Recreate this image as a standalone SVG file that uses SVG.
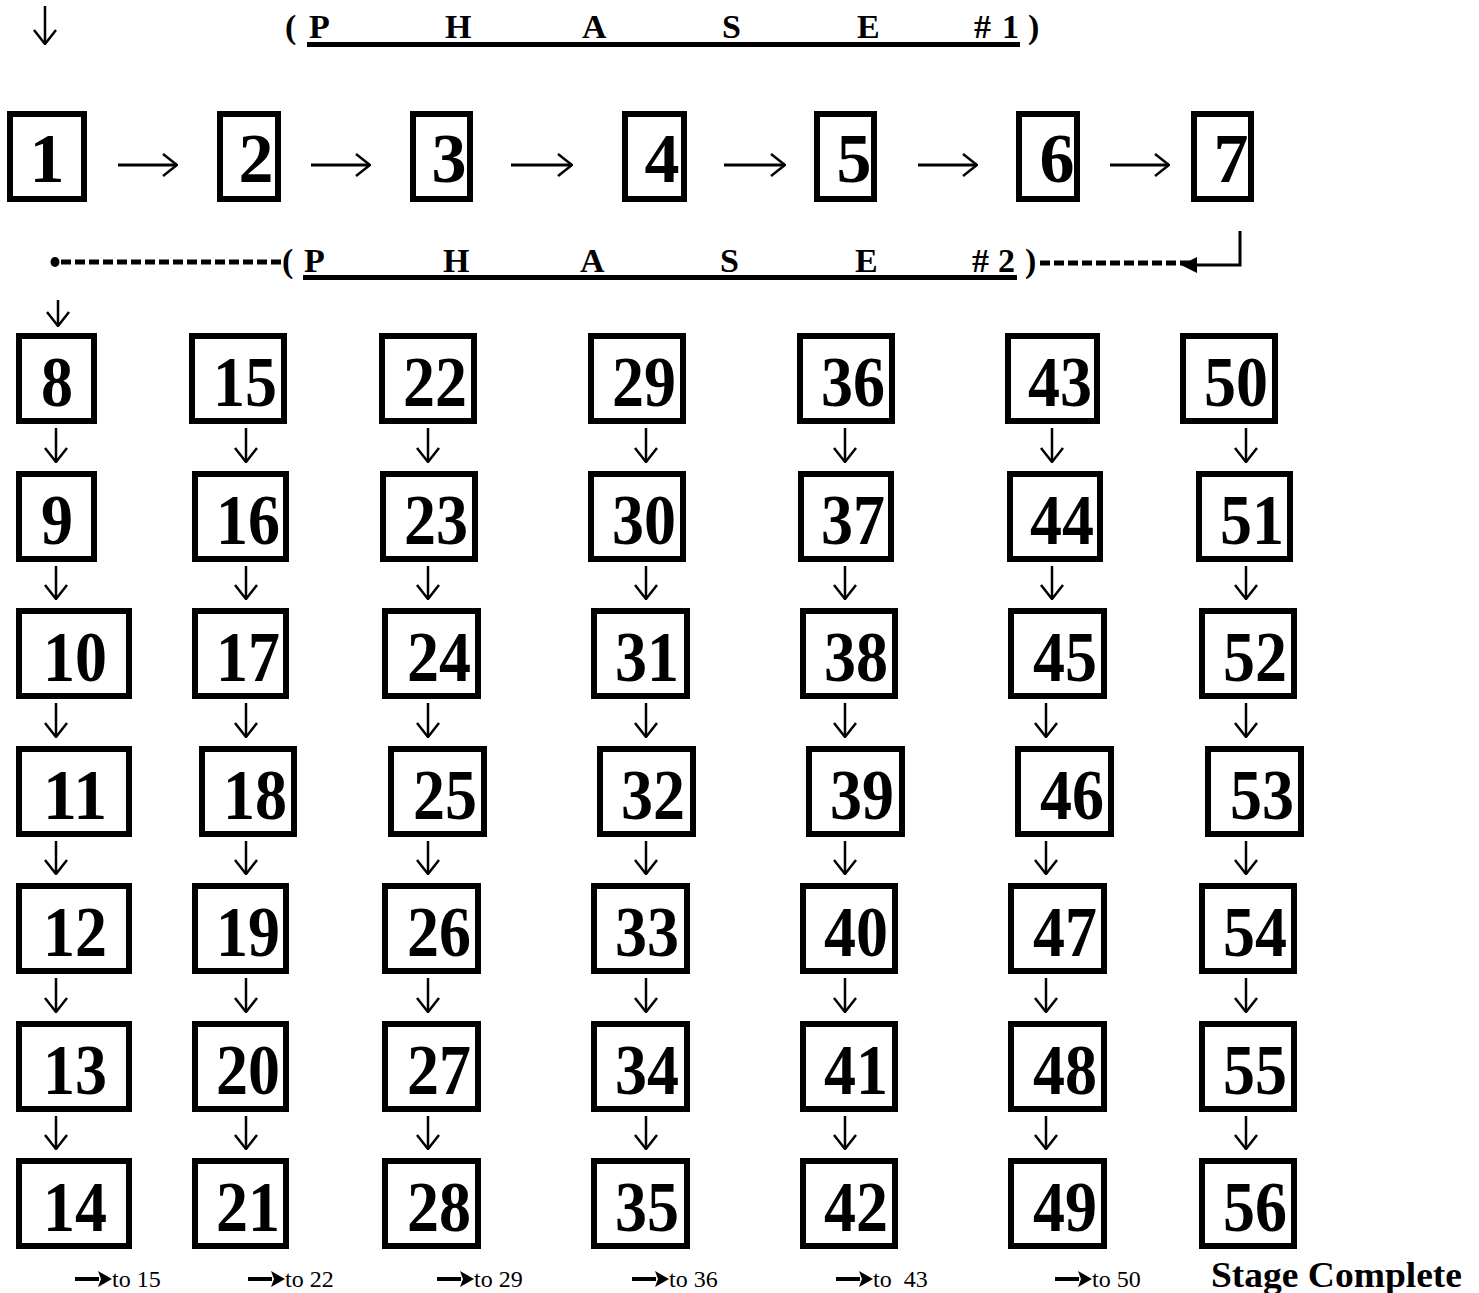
<svg xmlns="http://www.w3.org/2000/svg" width="1479" height="1293" viewBox="0 0 1479 1293">
<style>
.box{fill:#fff;stroke:#000;stroke-width:6}
.num{font-family:"Liberation Serif","Times New Roman",serif;font-weight:bold;font-size:72px;text-anchor:middle;fill:#000}
.num1{font-family:"Liberation Serif","Times New Roman",serif;font-weight:bold;font-size:70px;text-anchor:middle;fill:#000}
.hdr{font-family:"Liberation Serif","Times New Roman",serif;font-weight:bold;font-size:34px;fill:#000}
.lbl{font-family:"Liberation Serif","Times New Roman",serif;font-size:24px;fill:#000}
.conn{stroke:#000;stroke-width:2.5;fill:none}
.hconn{stroke:#000;stroke-width:3;fill:none}
.fconn{stroke:#000;stroke-width:4;fill:none}
.dash{stroke:#000;stroke-width:5;stroke-dasharray:10 4;fill:none}
</style>
<defs>
<marker id="ah" viewBox="0 0 16 24" refX="15" refY="12" markerWidth="16" markerHeight="24" markerUnits="userSpaceOnUse" orient="auto">
<path d="M1,1 L15,12 L1,23" stroke="#000" stroke-width="2.5" fill="none"/>
</marker>
<marker id="ahf" viewBox="0 0 16 16" refX="1" refY="8" markerWidth="16" markerHeight="16" markerUnits="userSpaceOnUse" orient="auto">
<path d="M0,0 L16,8 L0,16 Z" fill="#000"/>
</marker>
<marker id="ahs" viewBox="0 0 14 16" refX="1" refY="8" markerWidth="14" markerHeight="16" markerUnits="userSpaceOnUse" orient="auto">
<path d="M0,0 L14,8 L0,16 L3,8 Z" fill="#000"/>
</marker>
</defs>

<g id="phase1-header">
<text class="hdr" y="38"><tspan x="285">(</tspan><tspan x="309">P</tspan><tspan x="445">H</tspan><tspan x="582">A</tspan><tspan x="722">S</tspan><tspan x="857">E</tspan><tspan x="974">#</tspan><tspan x="1002">1</tspan><tspan x="1028">)</tspan></text>
<rect x="307" y="42" width="713" height="5" fill="#000"/>
</g>

<g id="phase2-header">
<text class="hdr" y="272"><tspan x="282">(</tspan><tspan x="304">P</tspan><tspan x="443">H</tspan><tspan x="580">A</tspan><tspan x="720">S</tspan><tspan x="855">E</tspan><tspan x="972">#</tspan><tspan x="998">2</tspan><tspan x="1025">)</tspan></text>
<rect x="303" y="275" width="714" height="5" fill="#000"/>
</g>

<g id="nodes">
<g id="n1"><rect class="box" x="10" y="114" width="74" height="85"/><text class="num1" x="47" y="182">1</text></g>
<g id="n2"><rect class="box" x="220" y="114" width="58" height="85"/><text class="num1" x="256" y="182">2</text></g>
<g id="n3"><rect class="box" x="413" y="114" width="57" height="85"/><text class="num1" x="449" y="182">3</text></g>
<g id="n4"><rect class="box" x="625" y="114" width="59" height="85"/><text class="num1" x="662" y="182">4</text></g>
<g id="n5"><rect class="box" x="817" y="114" width="57" height="85"/><text class="num1" x="854" y="182">5</text></g>
<g id="n6"><rect class="box" x="1019" y="114" width="58" height="85"/><text class="num1" x="1057" y="182">6</text></g>
<g id="n7"><rect class="box" x="1194" y="114" width="57" height="85"/><text class="num1" x="1231" y="182">7</text></g>

<g id="n8"><rect class="box" x="19" y="336" width="75" height="85"/><text class="num" x="57" y="406" textLength="32" lengthAdjust="spacingAndGlyphs">8</text></g>
<g id="n9"><rect class="box" x="19" y="474" width="75" height="85"/><text class="num" x="57" y="544" textLength="32" lengthAdjust="spacingAndGlyphs">9</text></g>
<g id="n10"><rect class="box" x="19" y="611" width="110" height="85"/><text class="num" x="75" y="681" textLength="64" lengthAdjust="spacingAndGlyphs">10</text></g>
<g id="n11"><rect class="box" x="19" y="749" width="110" height="85"/><text class="num" x="75" y="819" textLength="64" lengthAdjust="spacingAndGlyphs">11</text></g>
<g id="n12"><rect class="box" x="19" y="886" width="110" height="85"/><text class="num" x="75" y="956" textLength="64" lengthAdjust="spacingAndGlyphs">12</text></g>
<g id="n13"><rect class="box" x="19" y="1024" width="110" height="85"/><text class="num" x="75" y="1094" textLength="64" lengthAdjust="spacingAndGlyphs">13</text></g>
<g id="n14"><rect class="box" x="19" y="1161" width="110" height="85"/><text class="num" x="75" y="1231" textLength="64" lengthAdjust="spacingAndGlyphs">14</text></g>

<g id="n15"><rect class="box" x="192" y="336" width="92" height="85"/><text class="num" x="245" y="406" textLength="64" lengthAdjust="spacingAndGlyphs">15</text></g>
<g id="n16"><rect class="box" x="195" y="474" width="91" height="85"/><text class="num" x="248" y="544" textLength="64" lengthAdjust="spacingAndGlyphs">16</text></g>
<g id="n17"><rect class="box" x="195" y="611" width="91" height="85"/><text class="num" x="248" y="681" textLength="64" lengthAdjust="spacingAndGlyphs">17</text></g>
<g id="n18"><rect class="box" x="202" y="749" width="92" height="85"/><text class="num" x="255" y="819" textLength="64" lengthAdjust="spacingAndGlyphs">18</text></g>
<g id="n19"><rect class="box" x="195" y="886" width="91" height="85"/><text class="num" x="248" y="956" textLength="64" lengthAdjust="spacingAndGlyphs">19</text></g>
<g id="n20"><rect class="box" x="195" y="1024" width="91" height="85"/><text class="num" x="248" y="1094" textLength="64" lengthAdjust="spacingAndGlyphs">20</text></g>
<g id="n21"><rect class="box" x="195" y="1161" width="91" height="85"/><text class="num" x="248" y="1231" textLength="64" lengthAdjust="spacingAndGlyphs">21</text></g>

<g id="n22"><rect class="box" x="382" y="336" width="92" height="85"/><text class="num" x="435" y="406" textLength="64" lengthAdjust="spacingAndGlyphs">22</text></g>
<g id="n23"><rect class="box" x="383" y="474" width="92" height="85"/><text class="num" x="436" y="544" textLength="64" lengthAdjust="spacingAndGlyphs">23</text></g>
<g id="n24"><rect class="box" x="385" y="611" width="93" height="85"/><text class="num" x="439" y="681" textLength="64" lengthAdjust="spacingAndGlyphs">24</text></g>
<g id="n25"><rect class="box" x="391" y="749" width="93" height="85"/><text class="num" x="445" y="819" textLength="64" lengthAdjust="spacingAndGlyphs">25</text></g>
<g id="n26"><rect class="box" x="385" y="886" width="93" height="85"/><text class="num" x="439" y="956" textLength="64" lengthAdjust="spacingAndGlyphs">26</text></g>
<g id="n27"><rect class="box" x="385" y="1024" width="93" height="85"/><text class="num" x="439" y="1094" textLength="64" lengthAdjust="spacingAndGlyphs">27</text></g>
<g id="n28"><rect class="box" x="385" y="1161" width="93" height="85"/><text class="num" x="439" y="1231" textLength="64" lengthAdjust="spacingAndGlyphs">28</text></g>

<g id="n29"><rect class="box" x="591" y="336" width="92" height="85"/><text class="num" x="644" y="406" textLength="64" lengthAdjust="spacingAndGlyphs">29</text></g>
<g id="n30"><rect class="box" x="591" y="474" width="92" height="85"/><text class="num" x="644" y="544" textLength="64" lengthAdjust="spacingAndGlyphs">30</text></g>
<g id="n31"><rect class="box" x="594" y="611" width="93" height="85"/><text class="num" x="647" y="681" textLength="64" lengthAdjust="spacingAndGlyphs">31</text></g>
<g id="n32"><rect class="box" x="600" y="749" width="93" height="85"/><text class="num" x="653" y="819" textLength="64" lengthAdjust="spacingAndGlyphs">32</text></g>
<g id="n33"><rect class="box" x="594" y="886" width="93" height="85"/><text class="num" x="647" y="956" textLength="64" lengthAdjust="spacingAndGlyphs">33</text></g>
<g id="n34"><rect class="box" x="594" y="1024" width="93" height="85"/><text class="num" x="647" y="1094" textLength="64" lengthAdjust="spacingAndGlyphs">34</text></g>
<g id="n35"><rect class="box" x="594" y="1161" width="93" height="85"/><text class="num" x="647" y="1231" textLength="64" lengthAdjust="spacingAndGlyphs">35</text></g>

<g id="n36"><rect class="box" x="800" y="336" width="92" height="85"/><text class="num" x="853" y="406" textLength="64" lengthAdjust="spacingAndGlyphs">36</text></g>
<g id="n37"><rect class="box" x="801" y="474" width="90" height="85"/><text class="num" x="853" y="544" textLength="64" lengthAdjust="spacingAndGlyphs">37</text></g>
<g id="n38"><rect class="box" x="803" y="611" width="92" height="85"/><text class="num" x="856" y="681" textLength="64" lengthAdjust="spacingAndGlyphs">38</text></g>
<g id="n39"><rect class="box" x="809" y="749" width="93" height="85"/><text class="num" x="862" y="819" textLength="64" lengthAdjust="spacingAndGlyphs">39</text></g>
<g id="n40"><rect class="box" x="803" y="886" width="92" height="85"/><text class="num" x="856" y="956" textLength="64" lengthAdjust="spacingAndGlyphs">40</text></g>
<g id="n41"><rect class="box" x="803" y="1024" width="92" height="85"/><text class="num" x="856" y="1094" textLength="64" lengthAdjust="spacingAndGlyphs">41</text></g>
<g id="n42"><rect class="box" x="803" y="1161" width="92" height="85"/><text class="num" x="856" y="1231" textLength="64" lengthAdjust="spacingAndGlyphs">42</text></g>

<g id="n43"><rect class="box" x="1008" y="336" width="89" height="85"/><text class="num" x="1060" y="406" textLength="64" lengthAdjust="spacingAndGlyphs">43</text></g>
<g id="n44"><rect class="box" x="1010" y="474" width="90" height="85"/><text class="num" x="1062" y="544" textLength="64" lengthAdjust="spacingAndGlyphs">44</text></g>
<g id="n45"><rect class="box" x="1011" y="611" width="93" height="85"/><text class="num" x="1065" y="681" textLength="64" lengthAdjust="spacingAndGlyphs">45</text></g>
<g id="n46"><rect class="box" x="1018" y="749" width="93" height="85"/><text class="num" x="1072" y="819" textLength="64" lengthAdjust="spacingAndGlyphs">46</text></g>
<g id="n47"><rect class="box" x="1011" y="886" width="93" height="85"/><text class="num" x="1065" y="956" textLength="64" lengthAdjust="spacingAndGlyphs">47</text></g>
<g id="n48"><rect class="box" x="1011" y="1024" width="93" height="85"/><text class="num" x="1065" y="1094" textLength="64" lengthAdjust="spacingAndGlyphs">48</text></g>
<g id="n49"><rect class="box" x="1011" y="1161" width="93" height="85"/><text class="num" x="1065" y="1231" textLength="64" lengthAdjust="spacingAndGlyphs">49</text></g>

<g id="n50"><rect class="box" x="1183" y="336" width="92" height="85"/><text class="num" x="1236" y="406" textLength="64" lengthAdjust="spacingAndGlyphs">50</text></g>
<g id="n51"><rect class="box" x="1199" y="474" width="91" height="85"/><text class="num" x="1252" y="544" textLength="64" lengthAdjust="spacingAndGlyphs">51</text></g>
<g id="n52"><rect class="box" x="1202" y="611" width="92" height="85"/><text class="num" x="1255" y="681" textLength="64" lengthAdjust="spacingAndGlyphs">52</text></g>
<g id="n53"><rect class="box" x="1208" y="749" width="93" height="85"/><text class="num" x="1262" y="819" textLength="64" lengthAdjust="spacingAndGlyphs">53</text></g>
<g id="n54"><rect class="box" x="1202" y="886" width="92" height="85"/><text class="num" x="1255" y="956" textLength="64" lengthAdjust="spacingAndGlyphs">54</text></g>
<g id="n55"><rect class="box" x="1202" y="1024" width="92" height="85"/><text class="num" x="1255" y="1094" textLength="64" lengthAdjust="spacingAndGlyphs">55</text></g>
<g id="n56"><rect class="box" x="1202" y="1161" width="92" height="85"/><text class="num" x="1255" y="1231" textLength="64" lengthAdjust="spacingAndGlyphs">56</text></g>
</g>

<g id="connectors">
<line class="conn" x1="45" y1="6" x2="45" y2="44" marker-end="url(#ah)"/>
<line class="hconn" x1="118" y1="165" x2="177" y2="165" marker-end="url(#ah)"/>
<line class="hconn" x1="311" y1="165" x2="370" y2="165" marker-end="url(#ah)"/>
<line class="hconn" x1="511" y1="165" x2="572" y2="165" marker-end="url(#ah)"/>
<line class="hconn" x1="724" y1="165" x2="785" y2="165" marker-end="url(#ah)"/>
<line class="hconn" x1="918" y1="165" x2="977" y2="165" marker-end="url(#ah)"/>
<line class="hconn" x1="1110" y1="165" x2="1169" y2="165" marker-end="url(#ah)"/>
<ellipse cx="55" cy="262" rx="4.5" ry="5" fill="#000"/>
<line class="dash" x1="61" y1="262" x2="283" y2="262"/>
<line class="dash" x1="1040" y1="263" x2="1190" y2="263"/>
<path class="hconn" d="M1240,231 L1240,265 L1196,265" marker-end="url(#ahf)"/>
<line class="conn" x1="58" y1="300" x2="58" y2="326" marker-end="url(#ah)"/>
<g id="col1-arrows">
<line class="conn" x1="56" y1="428" x2="56" y2="462" marker-end="url(#ah)"/>
<line class="conn" x1="56" y1="566" x2="56" y2="599" marker-end="url(#ah)"/>
<line class="conn" x1="56" y1="703" x2="56" y2="737" marker-end="url(#ah)"/>
<line class="conn" x1="56" y1="841" x2="56" y2="874" marker-end="url(#ah)"/>
<line class="conn" x1="56" y1="978" x2="56" y2="1012" marker-end="url(#ah)"/>
<line class="conn" x1="56" y1="1116" x2="56" y2="1149" marker-end="url(#ah)"/>
</g>
<g id="col2-arrows">
<line class="conn" x1="246" y1="428" x2="246" y2="462" marker-end="url(#ah)"/>
<line class="conn" x1="246" y1="566" x2="246" y2="599" marker-end="url(#ah)"/>
<line class="conn" x1="246" y1="703" x2="246" y2="737" marker-end="url(#ah)"/>
<line class="conn" x1="246" y1="841" x2="246" y2="874" marker-end="url(#ah)"/>
<line class="conn" x1="246" y1="978" x2="246" y2="1012" marker-end="url(#ah)"/>
<line class="conn" x1="246" y1="1116" x2="246" y2="1149" marker-end="url(#ah)"/>
</g>
<g id="col3-arrows">
<line class="conn" x1="428" y1="428" x2="428" y2="462" marker-end="url(#ah)"/>
<line class="conn" x1="428" y1="566" x2="428" y2="599" marker-end="url(#ah)"/>
<line class="conn" x1="428" y1="703" x2="428" y2="737" marker-end="url(#ah)"/>
<line class="conn" x1="428" y1="841" x2="428" y2="874" marker-end="url(#ah)"/>
<line class="conn" x1="428" y1="978" x2="428" y2="1012" marker-end="url(#ah)"/>
<line class="conn" x1="428" y1="1116" x2="428" y2="1149" marker-end="url(#ah)"/>
</g>
<g id="col4-arrows">
<line class="conn" x1="646" y1="428" x2="646" y2="462" marker-end="url(#ah)"/>
<line class="conn" x1="646" y1="566" x2="646" y2="599" marker-end="url(#ah)"/>
<line class="conn" x1="646" y1="703" x2="646" y2="737" marker-end="url(#ah)"/>
<line class="conn" x1="646" y1="841" x2="646" y2="874" marker-end="url(#ah)"/>
<line class="conn" x1="646" y1="978" x2="646" y2="1012" marker-end="url(#ah)"/>
<line class="conn" x1="646" y1="1116" x2="646" y2="1149" marker-end="url(#ah)"/>
</g>
<g id="col5-arrows">
<line class="conn" x1="845" y1="428" x2="845" y2="462" marker-end="url(#ah)"/>
<line class="conn" x1="845" y1="566" x2="845" y2="599" marker-end="url(#ah)"/>
<line class="conn" x1="845" y1="703" x2="845" y2="737" marker-end="url(#ah)"/>
<line class="conn" x1="845" y1="841" x2="845" y2="874" marker-end="url(#ah)"/>
<line class="conn" x1="845" y1="978" x2="845" y2="1012" marker-end="url(#ah)"/>
<line class="conn" x1="845" y1="1116" x2="845" y2="1149" marker-end="url(#ah)"/>
</g>
<g id="col6-arrows">
<line class="conn" x1="1052" y1="428" x2="1052" y2="462" marker-end="url(#ah)"/>
<line class="conn" x1="1052" y1="566" x2="1052" y2="599" marker-end="url(#ah)"/>
<line class="conn" x1="1046" y1="703" x2="1046" y2="737" marker-end="url(#ah)"/>
<line class="conn" x1="1046" y1="841" x2="1046" y2="874" marker-end="url(#ah)"/>
<line class="conn" x1="1046" y1="978" x2="1046" y2="1012" marker-end="url(#ah)"/>
<line class="conn" x1="1046" y1="1116" x2="1046" y2="1149" marker-end="url(#ah)"/>
</g>
<g id="col7-arrows">
<line class="conn" x1="1246" y1="428" x2="1246" y2="462" marker-end="url(#ah)"/>
<line class="conn" x1="1246" y1="566" x2="1246" y2="599" marker-end="url(#ah)"/>
<line class="conn" x1="1246" y1="703" x2="1246" y2="737" marker-end="url(#ah)"/>
<line class="conn" x1="1246" y1="841" x2="1246" y2="874" marker-end="url(#ah)"/>
<line class="conn" x1="1246" y1="978" x2="1246" y2="1012" marker-end="url(#ah)"/>
<line class="conn" x1="1246" y1="1116" x2="1246" y2="1149" marker-end="url(#ah)"/>
</g>
<g id="footer-arrows">
<line class="fconn" x1="75" y1="1279" x2="99" y2="1279" marker-end="url(#ahs)"/>
<line class="fconn" x1="248" y1="1279" x2="272" y2="1279" marker-end="url(#ahs)"/>
<line class="fconn" x1="437" y1="1279" x2="461" y2="1279" marker-end="url(#ahs)"/>
<line class="fconn" x1="632" y1="1279" x2="656" y2="1279" marker-end="url(#ahs)"/>
<line class="fconn" x1="836" y1="1279" x2="860" y2="1279" marker-end="url(#ahs)"/>
<line class="fconn" x1="1055" y1="1279" x2="1079" y2="1279" marker-end="url(#ahs)"/>
</g>
</g>

<g id="footer">
<text class="lbl" x="112" y="1287">to 15</text>
<text class="lbl" x="285" y="1287">to 22</text>
<text class="lbl" x="474" y="1287">to 29</text>
<text class="lbl" x="669" y="1287">to 36</text>
<text class="lbl" x="873" y="1287" xml:space="preserve">to  43</text>
<text class="lbl" x="1092" y="1287">to 50</text>
<text x="1211" y="1287" font-family="'Liberation Serif','Times New Roman',serif" font-weight="bold" font-size="36" textLength="251" lengthAdjust="spacingAndGlyphs">Stage Complete</text>
</g>
</svg>
